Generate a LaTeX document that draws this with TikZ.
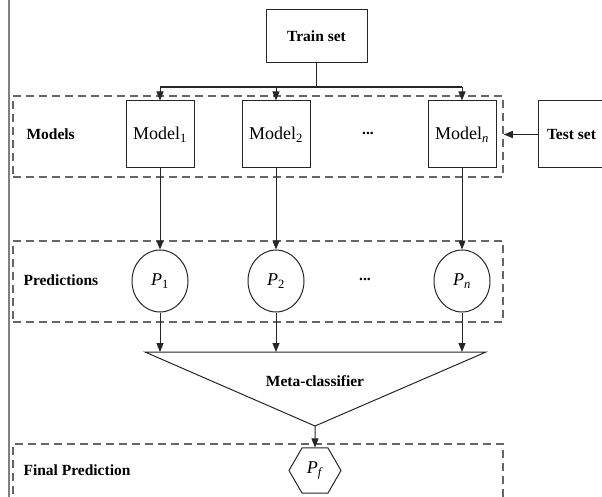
\documentclass[tikz,border=0pt]{standalone}
\usepackage{fontspec}
\setmainfont{Liberation Serif}
\usetikzlibrary{arrows.meta,shapes.geometric}
\begin{document}
\begin{tikzpicture}[x=1pt,y=-1pt,
  box/.style={draw=black!85,line width=1pt,minimum width=68pt,minimum height=67pt,inner sep=0pt},
  frame/.style={draw=black!60,line width=1.5pt,dash pattern=on 8pt off 5pt,inner sep=0pt},
  lbl/.style={font=\fontsize{15.5}{18}\selectfont\bfseries},
  mtext/.style={font=\fontsize{18}{20}\selectfont},
  pred/.style={draw=black!85,line width=1pt,ellipse,minimum width=56pt,minimum height=62pt,inner sep=0pt,font=\fontsize{18}{20}\selectfont},
  arr/.style={-{Triangle[length=9pt,width=7pt]},line width=1pt,draw=black!85},
]
\useasboundingbox (0,0) rectangle (602,497);
\clip (0,0) rectangle (602,497);
\draw[black!50,line width=1.5pt] (9,0) -- (9,497);

% Train set
\node[box,minimum width=101pt,minimum height=53pt,lbl] (train) at (316.5,36.5) {Train set};

% Models layer
\node[frame,minimum width=490pt,minimum height=81pt] (fm) at (258,136.5) {};
\node[lbl,anchor=west] (lm) at (23,134.5) {Models};
\node[box,mtext] (m1) at (160,134.5) {Model\textsubscript{1}};
\node[box,mtext] (m2) at (276,134.5) {Model\textsubscript{2}};
\node[box,mtext] (mn) at (462,134.5) {Model\textsubscript{\textit{n}}};
\node[lbl] (d1) at (368,133) {...};
\node[box,lbl,minimum width=102pt,anchor=west] (test) at (538,134.5) {\hspace*{-36pt}Test set};

\coordinate (br) at (316.5,87);
\draw[line width=1.8pt,black!85] (train.south) -- (br);
\draw[line width=1.5pt,black!85] (m1.north |- br) -- (mn.north |- br);
\draw[arr] (m1.north |- br) -- (m1.north);
\draw[arr] (m2.north |- br) -- (m2.north);
\draw[arr] (mn.north |- br) -- (mn.north);
\draw[arr,line width=1.5pt] (test.west) -- (fm.east |- test.west);

% Predictions layer
\node[frame,minimum width=490pt,minimum height=81pt] (fp) at (258,281.5) {};
\node[lbl,anchor=west] (lp) at (20,280) {Predictions};
\node[pred] (p1) at (160,281) {\textit{P}\textsubscript{1}};
\node[pred] (p2) at (276,281) {\textit{P}\textsubscript{2}};
\node[pred] (pn) at (462,281) {\textit{P}\textsubscript{\textit{n}}};
\node[lbl] (d2) at (365,279) {...};

\draw[arr] (m1.south) -- (p1.north);
\draw[arr] (m2.south) -- (p2.north);
\draw[arr] (mn.south) -- (pn.north);

% Meta-classifier
\coordinate (tl) at (145,352);
\coordinate (tr) at (486,352);
\coordinate (apex) at (315,426);
\draw[line width=1pt,black!85] (tl) -- (tr) -- (apex) -- cycle;
\node[lbl] (meta) at (315,381) {Meta-classifier};

\draw[arr] (p1.south) -- (p1.south |- tl);
\draw[arr] (p2.south) -- (p2.south |- tl);
\draw[arr] (pn.south) -- (pn.south |- tl);

% Final prediction
\node[frame,minimum width=490pt,minimum height=96pt] (ff) at (258,492) {};
\node[lbl,anchor=west] (lf) at (20,470) {Final Prediction};
\node[draw=black!85,line width=1pt,regular polygon,regular polygon sides=6,minimum size=52pt,inner sep=0pt,font=\fontsize{18}{20}\selectfont] (pf) at (315,470.5) {\textit{P}\textsubscript{\textit{f}}};
\draw[arr] (apex) -- (pf.north);
\end{tikzpicture}
\end{document}
